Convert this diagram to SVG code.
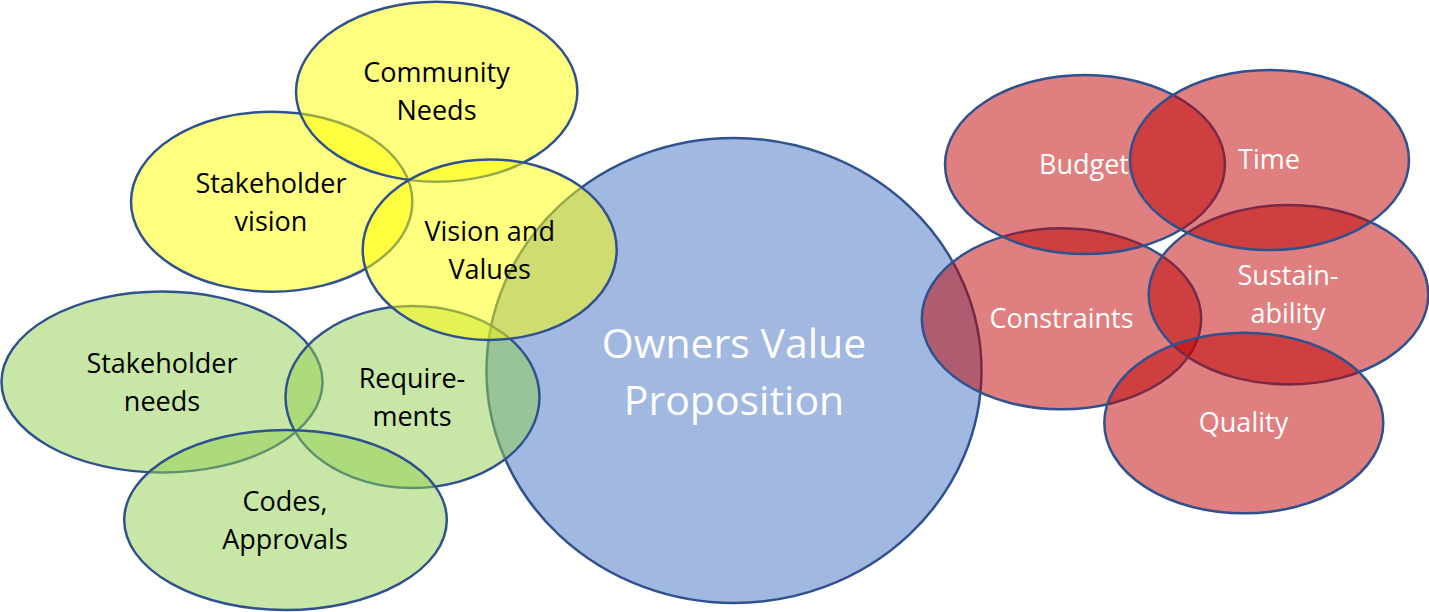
<svg xmlns="http://www.w3.org/2000/svg" width="1429" height="612" viewBox="0 0 1429 612">
  <style>
    .shape { stroke: #2F528F; stroke-width: 2.5; fill-opacity: 0.5; }
    .blue { fill: #4472C4; }
    .green { fill: #92D050; }
    .yellow { fill: #FFFF00; }
    .red { fill: #C00000; }
    text { font-family: "Open Sans", "Noto Sans", "Liberation Sans", sans-serif; text-anchor: middle; }
    .lbl { font-size: 27px; }
    .dark { fill: #000000; }
    .light { fill: #FFFFFF; }
    .big { font-size: 41px; fill: #FFFFFF; }
  </style>
  <rect width="1429" height="612" fill="#FFFFFF"/>

  <g id="owners-value-proposition">
    <ellipse class="shape blue" cx="734" cy="370.5" rx="247.5" ry="232.5"/>
    <text class="big" x="734" y="358">Owners Value</text>
    <text class="big" x="734" y="415">Proposition</text>
  </g>

  <g id="stakeholder-needs">
    <ellipse class="shape green" cx="162" cy="382" rx="160.5" ry="90.5"/>
    <text class="lbl dark" x="162" y="373">Stakeholder</text>
    <text class="lbl dark" x="162" y="411">needs</text>
  </g>

  <g id="requirements">
    <ellipse class="shape green" cx="412.5" cy="397" rx="127" ry="91"/>
    <text class="lbl dark" x="412" y="388">Require-</text>
    <text class="lbl dark" x="412" y="426">ments</text>
  </g>

  <g id="codes-approvals">
    <ellipse class="shape green" cx="285.5" cy="520" rx="161.3" ry="90"/>
    <text class="lbl dark" x="285" y="511">Codes,</text>
    <text class="lbl dark" x="285" y="549">Approvals</text>
  </g>

  <g id="stakeholder-vision">
    <ellipse class="shape yellow" cx="271.7" cy="201.7" rx="140.7" ry="90"/>
    <text class="lbl dark" x="271" y="193">Stakeholder</text>
    <text class="lbl dark" x="271" y="231">vision</text>
  </g>

  <g id="community-needs">
    <ellipse class="shape yellow" cx="436.7" cy="91.7" rx="140.7" ry="90"/>
    <text class="lbl dark" x="436.5" y="82">Community</text>
    <text class="lbl dark" x="436.5" y="120">Needs</text>
  </g>

  <g id="vision-and-values">
    <ellipse class="shape yellow" cx="489.7" cy="249.7" rx="127" ry="90.3"/>
    <text class="lbl dark" x="489.7" y="241">Vision and</text>
    <text class="lbl dark" x="489.7" y="279">Values</text>
  </g>

  <g id="constraints">
    <ellipse class="shape red" cx="1061.5" cy="318.8" rx="139.7" ry="90.5"/>
    <text class="lbl light" x="1061.5" y="328">Constraints</text>
  </g>

  <g id="sustainability">
    <ellipse class="shape red" cx="1288.5" cy="294.7" rx="139.8" ry="89.7"/>
    <text class="lbl light" x="1288" y="285">Sustain-</text>
    <text class="lbl light" x="1288" y="323">ability</text>
  </g>

  <g id="quality">
    <ellipse class="shape red" cx="1243.8" cy="423" rx="139.5" ry="90.3"/>
    <text class="lbl light" x="1243.5" y="432">Quality</text>
  </g>

  <g id="budget">
    <ellipse class="shape red" cx="1085" cy="164.5" rx="140" ry="89.5"/>
    <text class="lbl light" x="1084" y="174">Budget</text>
  </g>

  <g id="time">
    <ellipse class="shape red" cx="1269.5" cy="160" rx="139.5" ry="90"/>
    <text class="lbl light" x="1269" y="169">Time</text>
  </g>

  <g id="connectors"/>
</svg>
